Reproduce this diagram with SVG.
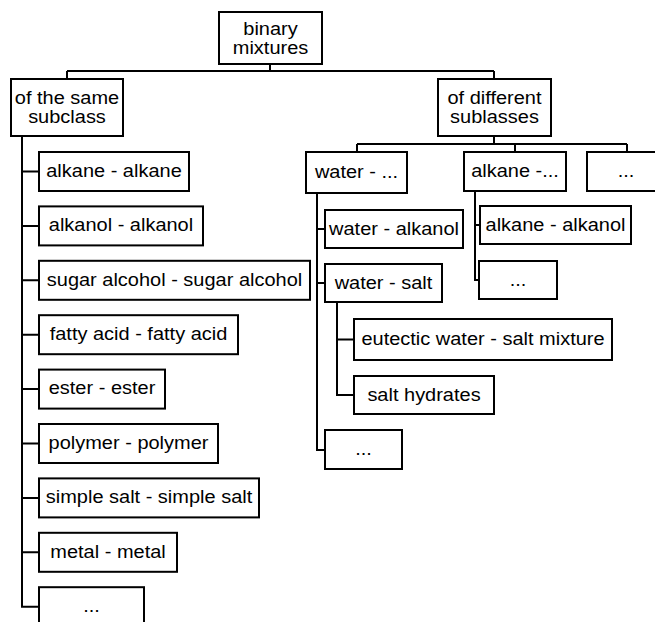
<svg xmlns="http://www.w3.org/2000/svg" width="655" height="622" viewBox="0 0 655 622">
<style>
rect{fill:#fff;stroke:#000;stroke-width:2}
text{font-family:"Liberation Sans",Arial,sans-serif;font-size:18.5px;fill:#000;text-anchor:middle}
.c{fill:none;stroke:#000;stroke-width:2}
</style>
<rect x="0" y="0" width="655" height="622" style="stroke:none"/>
<g id="connectors" class="c">
<path d="M270,64V71M67,71H494M67,79V71M494,79V71"/>
<path d="M22,136V606.7H39M22,171.5H39M22,225.9H39M22,280.3H39M22,334.7H39M22,389.1H39M22,443.5H39M22,497.9H39M22,552.3H39"/>
<path d="M494,136V144M357,144H627M357,152V144M515,152V144M627,152V144"/>
<path d="M317,193V450H325M317,229H325M317,283H325"/>
<path d="M337,302V395H354M337,339.5H354"/>
<path d="M475,191V280H479M475,225H480"/>
</g>
<g id="root"><rect x="219" y="12" width="103" height="52"/><text transform="translate(270.5,34.7) scale(1.08,1)"><tspan x="0" y="0">binary</tspan><tspan x="0" y="19.3">mixtures</tspan></text></g>
<g id="same"><rect x="11" y="79" width="112" height="57"/><text transform="translate(67,104) scale(1.08,1)"><tspan x="0" y="0">of the same</tspan><tspan x="0" y="19.3">subclass</tspan></text></g>
<g id="different"><rect x="438" y="79" width="113" height="57"/><text transform="translate(494.5,104) scale(1.08,1)"><tspan x="0" y="0">of different</tspan><tspan x="0" y="19.3">sublasses</tspan></text></g>
<g id="n1"><rect x="39" y="152" width="150" height="39"/><text transform="translate(114,176.8) scale(1.08,1)">alkane - alkane</text></g>
<g id="n2"><rect x="39" y="206.4" width="164" height="39"/><text transform="translate(121,231.2) scale(1.08,1)">alkanol - alkanol</text></g>
<g id="n3"><rect x="39" y="260.8" width="271" height="39"/><text transform="translate(174.5,285.6) scale(1.08,1)">sugar alcohol - sugar alcohol</text></g>
<g id="n4"><rect x="39" y="315.2" width="199" height="39"/><text transform="translate(138.5,340) scale(1.08,1)">fatty acid - fatty acid</text></g>
<g id="n5"><rect x="39" y="369.6" width="126" height="39"/><text transform="translate(102,394.4) scale(1.08,1)">ester - ester</text></g>
<g id="n6"><rect x="39" y="424" width="179" height="39"/><text transform="translate(128.5,448.8) scale(1.08,1)">polymer - polymer</text></g>
<g id="n7"><rect x="39" y="478.4" width="220" height="39"/><text transform="translate(149,503.2) scale(1.08,1)">simple salt - simple salt</text></g>
<g id="n8"><rect x="39" y="532.8" width="138" height="39"/><text transform="translate(108,557.6) scale(1.08,1)">metal - metal</text></g>
<g id="n9"><rect x="39" y="587.2" width="105" height="39"/><text transform="translate(91.5,612) scale(1.08,1)">...</text></g>
<g id="water"><rect x="306" y="152" width="101" height="41"/><text transform="translate(356.5,178) scale(1.08,1)">water - ...</text></g>
<g id="alkane"><rect x="464" y="152" width="102" height="39"/><text transform="translate(515,176.8) scale(1.08,1)">alkane -...</text></g>
<g id="other"><rect x="587" y="152" width="79" height="39"/><text transform="translate(626,176.8) scale(1.08,1)">...</text></g>
<g id="wa"><rect x="325" y="210" width="138" height="38"/><text transform="translate(394,234.5) scale(1.08,1)">water - alkanol</text></g>
<g id="ws"><rect x="325" y="264" width="117" height="38"/><text transform="translate(383.5,288.5) scale(1.08,1)">water - salt</text></g>
<g id="eut"><rect x="354" y="319" width="258" height="41"/><text transform="translate(483,344.8) scale(1.08,1)">eutectic water - salt mixture</text></g>
<g id="sh"><rect x="354" y="376" width="140" height="38"/><text transform="translate(424,400.5) scale(1.08,1)">salt hydrates</text></g>
<g id="wx"><rect x="325" y="430" width="77" height="39"/><text transform="translate(363.5,454.8) scale(1.08,1)">...</text></g>
<g id="aa"><rect x="480" y="206" width="151" height="38"/><text transform="translate(555.5,230.5) scale(1.08,1)">alkane - alkanol</text></g>
<g id="ax"><rect x="479" y="261" width="78" height="38"/><text transform="translate(518,285.5) scale(1.08,1)">...</text></g>
</svg>
